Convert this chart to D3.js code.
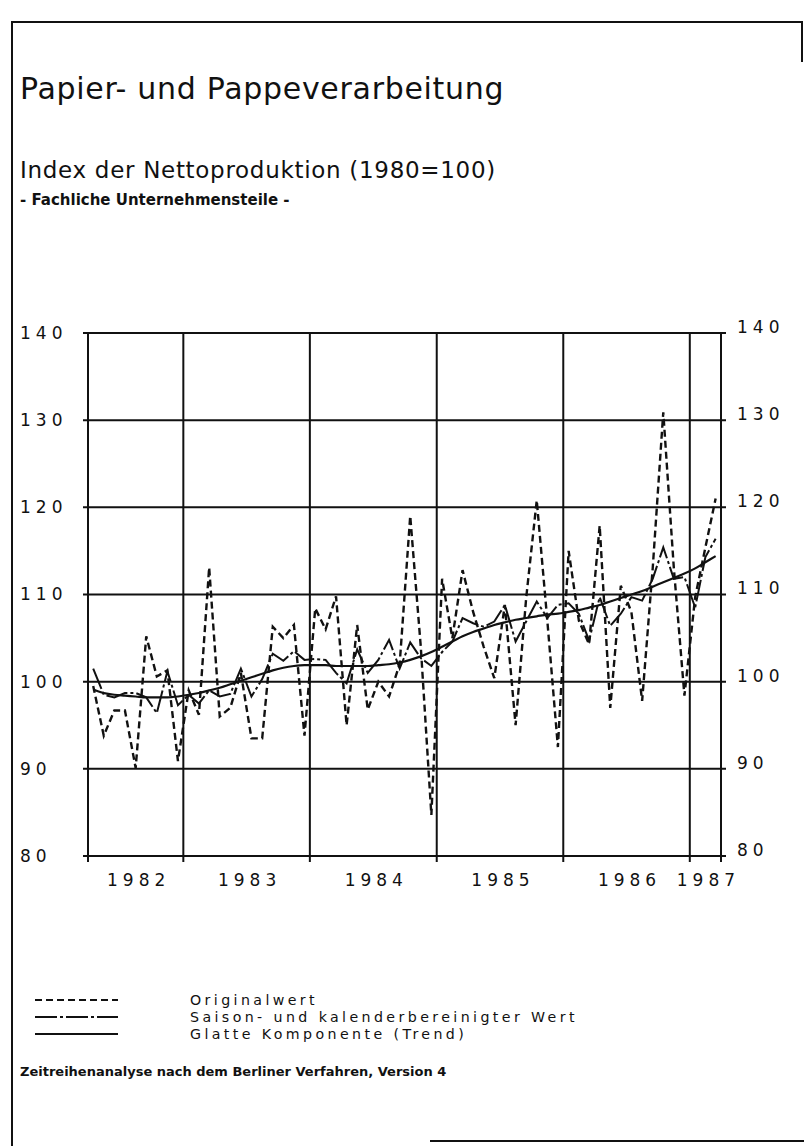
<!DOCTYPE html>
<html>
<head>
<meta charset="utf-8">
<script src="https://cdn.jsdelivr.net/npm/d3@7"></script>
<style>
  body { margin: 0; background: #fff; }
  svg { display: block; }
  text { font-family: "DejaVu Sans", sans-serif; fill: #111; }
</style>
</head>
<body>
<div id="chart"></div>
<script>
const width = 804;
const height = 1146;

// monthly series, April 1982 - March 1987
const startMonth = new Date(1982, 3, 1);
const endMonth = new Date(1987, 3, 1);
const months = d3.timeMonth.range(startMonth, endMonth);

const original = [
    99.5, 93.8, 96.7, 96.7, 90.1, 105.2, 100.6, 101.3, 90.9,
    99.0, 96.2, 113.1, 96.0, 97.0, 101.0, 93.5, 93.5, 106.3, 105.0, 106.5, 93.8,
    108.4, 106.0, 109.8, 95.0, 106.5, 96.8, 100.0, 98.3, 102.0, 119.0, 104.0, 84.7,
    111.8, 105.0, 112.8, 108.0, 104.0, 100.4, 108.8, 95.0, 109.6, 120.8, 107.0, 92.5,
    115.0, 107.0, 104.3, 117.9, 97.0, 111.0, 108.0, 97.8, 113.0, 130.9, 113.0, 98.4,
    109.7, 115.4, 121.0
];

const adjusted = [
    101.5, 98.5, 98.2, 98.7, 98.7, 98.2, 96.4, 101.2, 97.3,
    98.5, 97.5, 99.0, 98.3, 98.6, 101.5, 98.3, 100.3, 103.2, 102.4, 103.5, 102.5,
    102.6, 102.5, 101.0, 99.8, 103.7, 101.0, 102.5, 104.8, 101.5, 104.5, 102.7, 101.8,
    103.4, 104.6, 107.3, 106.7, 106.3, 106.9, 108.8, 104.6, 106.9, 109.2, 107.3, 108.8,
    109.0, 107.8, 104.7, 109.7, 106.4, 107.8, 109.7, 109.3, 111.8, 115.4, 111.8, 112.0,
    108.5, 114.3, 116.4
];

const trend = [
    99.1, 98.7, 98.5, 98.4, 98.3, 98.2, 98.2, 98.2, 98.3,
    98.5, 98.7, 99.0, 99.3, 99.7, 100.1, 100.5, 100.9, 101.3, 101.6, 101.8, 101.9,
    101.9, 101.9, 101.8, 101.8, 101.8, 101.8, 101.9, 102.0, 102.2, 102.5, 102.9, 103.4,
    104.0, 104.6, 105.2, 105.7, 106.1, 106.5, 106.8, 107.1, 107.3, 107.5, 107.7, 107.8,
    108.0, 108.2, 108.5, 108.8, 109.2, 109.6, 110.0, 110.4, 110.9, 111.4, 111.9, 112.4,
    113.0, 113.7, 114.4
];

const years = [1982, 1983, 1984, 1985, 1986, 1987];
const yTicks = [80, 90, 100, 110, 120, 130, 140];

const legendLabels = [
    "Originalwert",
    "Saison- und kalenderbereinigter Wert",
    "Glatte Komponente (Trend)"
];

const plot = { left: 88, right: 721, top: 333, bottom: 856 };

const x = d3.scaleTime().domain([startMonth, endMonth]).range([plot.left, plot.right]);
const y = d3.scaleLinear().domain([80, 140]).range([plot.bottom, plot.top]);

const midMonth = d => new Date((d.getTime() + d3.timeMonth.offset(d, 1).getTime()) / 2);

const dashOriginal = "7,4";
const dashAdjusted = "22,3,3,3";

const svg = d3.create("svg")
    .attr("width", width)
    .attr("height", height);

svg.append("rect")
    .attr("width", width)
    .attr("height", height)
    .attr("fill", "#fff");

// page frame of the scanned sheet
svg.append("path")
    .attr("d", "M12,1146V22H802V62 M430,1141H804")
    .attr("fill", "none")
    .attr("stroke", "#111")
    .attr("stroke-width", 2);

// titles
svg.append("text")
    .attr("x", 20).attr("y", 99)
    .attr("font-size", 30)
    .attr("letter-spacing", 0.7)
    .text("Papier- und Pappeverarbeitung");

svg.append("text")
    .attr("x", 20).attr("y", 178)
    .attr("font-size", 23)
    .attr("letter-spacing", 0.7)
    .text("Index der Nettoproduktion (1980=100)");

svg.append("text")
    .attr("x", 20).attr("y", 205)
    .attr("font-size", 15)
    .attr("font-weight", "bold")
    .text("- Fachliche Unternehmensteile -");

// grid
const grid = svg.append("g")
    .attr("stroke", "#111")
    .attr("stroke-width", 2);

grid.selectAll("line.h")
    .data(yTicks)
    .join("line")
    .attr("class", "h")
    .attr("x1", plot.left - 5)
    .attr("x2", plot.right + 5)
    .attr("y1", d => y(d))
    .attr("y2", d => y(d));

const yearStarts = years.slice(1).map(yr => new Date(yr, 0, 1));
const verticals = [startMonth, ...yearStarts, endMonth];

grid.selectAll("line.v")
    .data(verticals)
    .join("line")
    .attr("class", "v")
    .attr("x1", d => x(d))
    .attr("x2", d => x(d))
    .attr("y1", plot.top)
    .attr("y2", plot.bottom + 6);

// y labels, both sides
const yLabels = svg.append("g")
    .attr("font-size", 17)
    .attr("letter-spacing", 5);

yLabels.selectAll("text.l")
    .data(yTicks)
    .join("text")
    .attr("class", "l")
    .attr("x", 20)
    .attr("y", d => y(d))
    .attr("dy", "0.35em")
    .text(d => d);

yLabels.selectAll("text.r")
    .data(yTicks)
    .join("text")
    .attr("class", "r")
    .attr("x", 737)
    .attr("y", d => y(d) - 6)
    .attr("dy", "0.35em")
    .text(d => d);

// year labels centred in the visible part of each year
svg.append("g")
    .attr("font-size", 17)
    .attr("letter-spacing", 5)
    .selectAll("text")
    .data(years)
    .join("text")
    .attr("text-anchor", "middle")
    .attr("x", d => {
        const a = d3.max([startMonth, new Date(d, 0, 1)]);
        const b = d3.min([endMonth, new Date(d + 1, 0, 1)]);
        return (x(a) + x(b)) / 2 + 3;
    })
    .attr("y", 886)
    .text(d => d);

// series
const line = d3.line()
    .x((d, i) => x(midMonth(months[i])))
    .y(d => y(d));

svg.append("path")
    .datum(trend)
    .attr("fill", "none")
    .attr("stroke", "#111")
    .attr("stroke-width", 2.2)
    .attr("d", line.curve(d3.curveMonotoneX));

svg.append("path")
    .datum(adjusted)
    .attr("fill", "none")
    .attr("stroke", "#111")
    .attr("stroke-width", 2)
    .attr("stroke-dasharray", dashAdjusted)
    .attr("d", line.curve(d3.curveLinear));

svg.append("path")
    .datum(original)
    .attr("fill", "none")
    .attr("stroke", "#111")
    .attr("stroke-width", 2.4)
    .attr("stroke-dasharray", dashOriginal)
    .attr("d", line.curve(d3.curveLinear));

// legend
const legend = svg.append("g");
const legendDash = [dashOriginal, dashAdjusted, null];

legendLabels.forEach((label, i) => {
    const ly = 1000 + i * 17;
    legend.append("line")
        .attr("x1", 35).attr("x2", 118)
        .attr("y1", ly).attr("y2", ly)
        .attr("stroke", "#111")
        .attr("stroke-width", 2)
        .attr("stroke-dasharray", legendDash[i]);
    legend.append("text")
        .attr("x", 190)
        .attr("y", ly)
        .attr("dy", "0.35em")
        .attr("font-size", 14.2)
        .attr("letter-spacing", 3.4)
        .text(label);
});

svg.append("text")
    .attr("x", 20).attr("y", 1076)
    .attr("font-size", 13)
    .attr("font-weight", "bold")
    .text("Zeitreihenanalyse nach dem Berliner Verfahren, Version 4");

d3.select("#chart").node().append(svg.node());
</script>
</body>
</html>
